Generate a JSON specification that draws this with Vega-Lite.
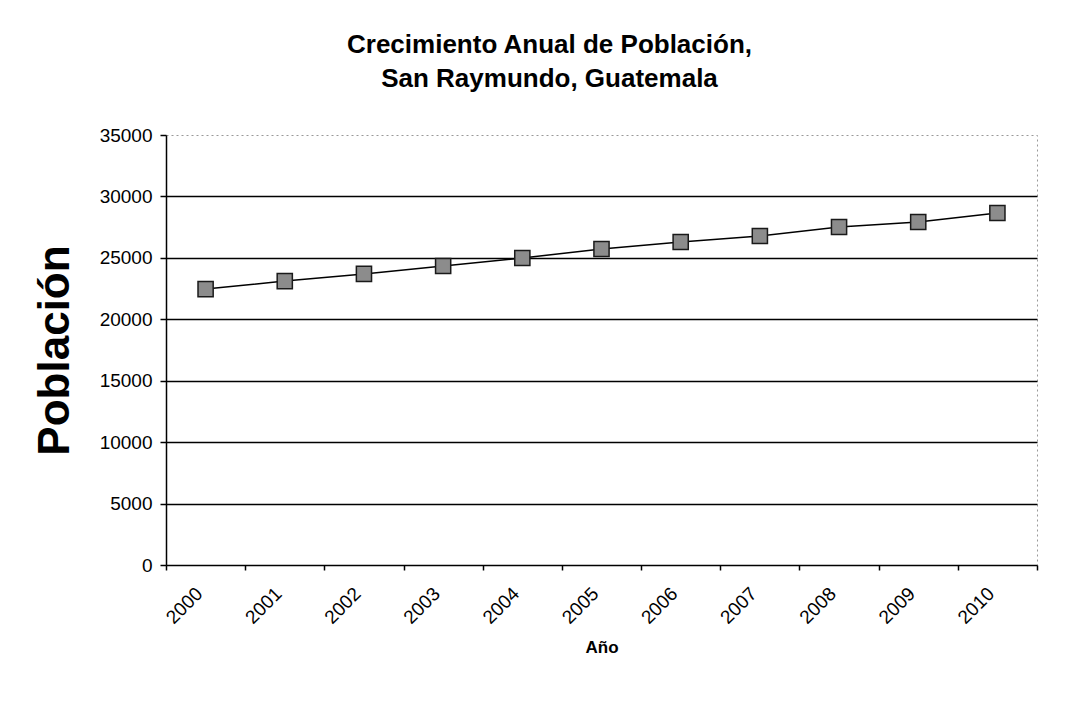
{
  "$schema": "https://vega.github.io/schema/vega-lite/v6.json",
  "autosize": {"type": "none"},
  "padding": {"left": 166, "top": 135, "right": 51, "bottom": 149},
  "width": 871,
  "height": 430,
  "background": "white",
  "config": {
    "font": "Liberation Sans",
    "view": {"stroke": "#999999", "strokeDash": [2, 3], "strokeWidth": 1}
  },
  "title": {
    "text": ["Crecimiento Anual de Población,", "San Raymundo, Guatemala"],
    "font": "Liberation Sans",
    "fontSize": 26,
    "fontWeight": "bold",
    "color": "black",
    "anchor": "middle",
    "dx": -52,
    "offset": 34,
    "lineHeight": 34
  },
  "data": {
    "values": [
      {"year": "2000", "pop": 22460},
      {"year": "2001", "pop": 23110},
      {"year": "2002", "pop": 23690},
      {"year": "2003", "pop": 24340},
      {"year": "2004", "pop": 24990},
      {"year": "2005", "pop": 25720},
      {"year": "2006", "pop": 26290},
      {"year": "2007", "pop": 26780},
      {"year": "2008", "pop": 27510},
      {"year": "2009", "pop": 27920},
      {"year": "2010", "pop": 28650}
    ]
  },
  "encoding": {
    "x": {
      "field": "year",
      "type": "ordinal",
      "scale": {"type": "band", "paddingInner": 0, "paddingOuter": 0},
      "axis": {
        "title": "Año",
        "titleFont": "Liberation Sans",
        "titleFontSize": 17,
        "titleFontWeight": "bold",
        "titleColor": "black",
        "titlePadding": 12,
        "labelAngle": -45,
        "labelFont": "Liberation Sans",
        "labelFontSize": 19,
        "labelColor": "black",
        "labelPadding": 14,
        "labelOffset": -13,
        "tickBand": "extent",
        "ticks": true,
        "tickSize": 5,
        "tickColor": "black",
        "tickWidth": 1.5,
        "domainColor": "black",
        "domainWidth": 1.5,
        "grid": false
      }
    },
    "y": {
      "field": "pop",
      "type": "quantitative",
      "scale": {"domain": [0, 35000], "nice": false},
      "axis": {
        "title": "Población",
        "titleFont": "Liberation Sans",
        "titleFontSize": 44,
        "titleFontWeight": "bold",
        "titleColor": "black",
        "titlePadding": 22,
        "values": [0, 5000, 10000, 15000, 20000, 25000, 30000, 35000],
        "format": "d",
        "labelFont": "Liberation Sans",
        "labelFontSize": 19,
        "labelColor": "black",
        "labelPadding": 8,
        "tickSize": 6,
        "tickColor": "black",
        "tickWidth": 1.5,
        "domainColor": "black",
        "domainWidth": 1.5,
        "grid": true,
        "gridColor": {"condition": {"test": "datum.value === 35000 || datum.value === 0", "value": "transparent"}, "value": "black"},
        "gridWidth": 1.5
      }
    }
  },
  "layer": [
    {
      "mark": {"type": "line", "color": "black", "strokeWidth": 1.5}
    },
    {
      "mark": {"type": "point", "shape": "square", "filled": true, "size": 230, "fill": "#8c8c8c", "stroke": "#1a1a1a", "strokeWidth": 1.5, "opacity": 1}
    }
  ]
}
